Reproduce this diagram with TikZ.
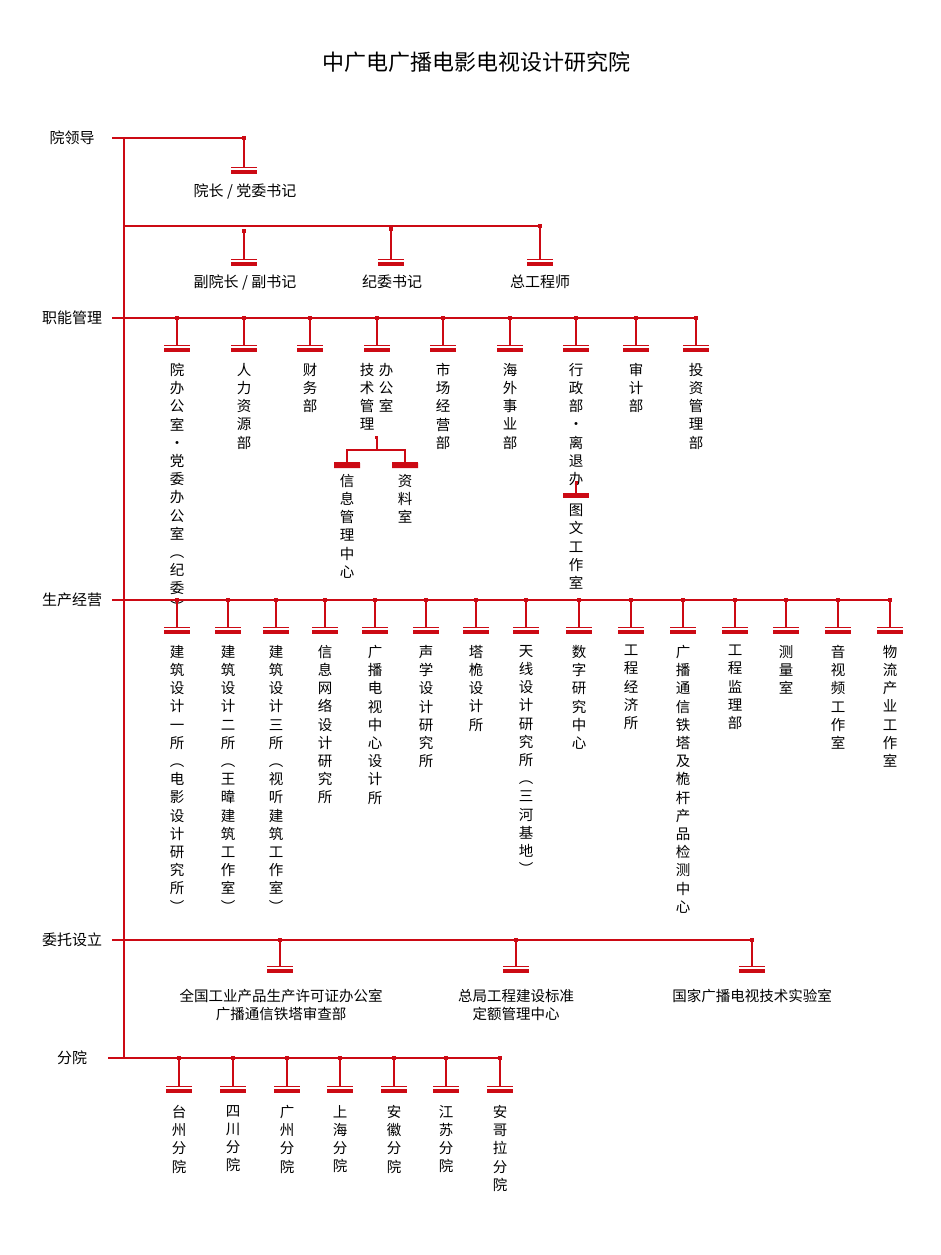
\documentclass[tikz,border=0pt]{standalone}
\usepackage{fontspec}
\setmainfont{Noto Sans CJK SC}
\definecolor{rd}{HTML}{CC0A14}
\def\vsend{}
\def\vsA#1{\ifx#1\vsend\else\hbox to 0pt{\hss#1\hss}\expandafter\vsA\fi}
\newcommand\vstack[1]{\vbox{\baselineskip=18.2pt\lineskiplimit=-20pt\vsA#1\vsend}}
\begin{document}
\begin{tikzpicture}[x=1pt,y=-1pt,
  bus/.style={draw=rd,line width=1.8pt},
  thin/.style={draw=rd,line width=1.1pt},
  lvl/.style={font=\fontsize{15}{18}\selectfont,anchor=center,inner sep=0},
  lab/.style={font=\fontsize{15}{18}\selectfont,inner sep=0},
  vt/.style={font=\fontsize{14.5}{18}\selectfont,inner sep=0,anchor=north}]
\useasboundingbox (0,0) rectangle (940,1255);
\newcommand\mk[3]{% x, stemtop, bar-thin y
  \fill[rd] (#1-1.7,#2-1.7) rectangle (#1+1.7,#2+1.7);
  \draw[thin] (#1,#2) -- (#1,#3);
  \draw[rd,line width=1pt] (#1-13,#3) -- (#1+13,#3);
  \fill[rd] (#1-13,#3+2.5) rectangle (#1+13,#3+7);}
\node[font=\fontsize{22}{26}\selectfont] (title) at (476,62) {中广电广播电影电视设计研究院};
% spine
\coordinate (s0) at (124,138); \coordinate (s1) at (124,1058);
\draw[thin] (s0) -- (s1);
% 院领导
\node[lvl] (l1) at (72,138) {院领导};
\coordinate (b1a) at (112,138); \coordinate (b1b) at (244,138);
\draw[bus] (b1a) -- (b1b);
\mk{244}{138}{167}
\node[lab] (n1) at (245,191) {院长 / 党委书记};
\coordinate (b2a) at (124,226); \coordinate (b2b) at (540,226);
\draw[thin] (b2a) -- (b2b);
\mk{244}{231}{259}\mk{391}{229}{259}\mk{540}{226}{259}
\node[lab] (n2) at (245,282) {副院长 / 副书记};
\node[lab] (n3) at (392,282) {纪委书记};
\node[lab] (n4) at (540,282) {总工程师};
% 职能管理
\node[lvl] (l2) at (72,318) {职能管理};
\coordinate (b3a) at (112,318); \coordinate (b3b) at (696,318);
\draw[bus] (b3a) -- (b3b);
\foreach \x in {177,244,310,377,443,510,576,636,696}{\mk{\x}{318}{345}}
\node[vt] (f1) at (177,363) {\vstack{院办公室·党委办公室︵纪委︶}};
\node[vt] (f2) at (244,363) {\vstack{人力资源部}};
\node[vt] (f3) at (310,363) {\vstack{财务部}};
\node[vt] (f4a) at (386,363) {\vstack{办公室}};
\node[vt] (f4b) at (367,363) {\vstack{技术管理}};
\node[vt] (f5) at (443,363) {\vstack{市场经营部}};
\node[vt] (f6) at (510,363) {\vstack{海外事业部}};
\node[vt] (f7) at (576,363) {\vstack{行政部·离退办}};
\node[vt] (f8) at (636,363) {\vstack{审计部}};
\node[vt] (f9) at (696,363) {\vstack{投资管理部}};
% sub branches
\fill[rd] (374.5,435.5) rectangle (377.5,438.5);
\draw[thin] (377,437) -- (377,450) (347,462) |- (405,450) -- (405,462);
\draw[rd,line width=1pt] (334,462) -- (360,462) (392,462) -- (418,462);
\fill[rd] (334,463) rectangle (360,468) (392,463) rectangle (418,468);
\node[vt] (g1) at (347,474) {\vstack{信息管理中心}};
\node[vt] (g2) at (405,474) {\vstack{资料室}};
\fill[rd] (574.5,480.5) rectangle (577.5,483.5);
\draw[thin] (576,482) -- (576,493);
\fill[rd] (563,493) rectangle (589,498);
\node[vt] (g3) at (576,504) {\vstack{图文工作室}};
% 生产经营
\node[lvl] (l3) at (72,600) {生产经营};
\coordinate (b4a) at (112,600); \coordinate (b4b) at (890,600);
\draw[bus] (b4a) -- (b4b);
\foreach \x in {177,228,276,325,375,426,476,526,579,631,683,735,786,838,890}{\mk{\x}{600}{627}}
\node[vt] (p1) at (177,645) {\vstack{建筑设计一所︵电影设计研究所︶}};
\node[vt] (p2) at (228,645) {\vstack{建筑设计二所︵王暐建筑工作室︶}};
\node[vt] (p3) at (276,645) {\vstack{建筑设计三所︵视听建筑工作室︶}};
\node[vt] (p4) at (325,645) {\vstack{信息网络设计研究所}};
\node[vt] (p5) at (375,645) {\vstack{广播电视中心设计所}};
\node[vt] (p6) at (426,645) {\vstack{声学设计研究所}};
\node[vt] (p7) at (476,645) {\vstack{塔桅设计所}};
\node[vt] (p8) at (526,645) {\vstack{天线设计研究所︵三河基地︶}};
\node[vt] (p9) at (579,645) {\vstack{数字研究中心}};
\node[vt] (p10) at (631,645) {\vstack{工程经济所}};
\node[vt] (p11) at (683,645) {\vstack{广播通信铁塔及桅杆产品检测中心}};
\node[vt] (p12) at (735,645) {\vstack{工程监理部}};
\node[vt] (p13) at (786,645) {\vstack{测量室}};
\node[vt] (p14) at (838,645) {\vstack{音视频工作室}};
\node[vt] (p15) at (890,645) {\vstack{物流产业工作室}};
% 委托设立
\node[lvl] (l4) at (72,940) {委托设立};
\coordinate (b5a) at (112,940); \coordinate (b5b) at (752,940);
\draw[bus] (b5a) -- (b5b);
\foreach \x in {280,516,752}{\mk{\x}{940}{966}}
\node[lab,align=center,font=\fontsize{14.5}{18}\selectfont] (w1) at (281,1005) {全国工业产品生产许可证办公室\\广播通信铁塔审查部};
\node[lab,align=center,font=\fontsize{14.5}{18}\selectfont] (w2) at (516,1005) {总局工程建设标准\\定额管理中心};
\node[lab,font=\fontsize{14.5}{18}\selectfont] (w3) at (752,996) {国家广播电视技术实验室};
% 分院
\node[lvl] (l5) at (72,1058) {分院};
\coordinate (b6a) at (108,1058); \coordinate (b6b) at (500,1058);
\draw[bus] (b6a) -- (b6b);
\foreach \x in {179,233,287,340,394,446,500}{\mk{\x}{1058}{1086}}
\node[vt] (q1) at (179,1105) {\vstack{台州分院}};
\node[vt] (q2) at (233,1105) {\vstack{四川分院}};
\node[vt] (q3) at (287,1105) {\vstack{广州分院}};
\node[vt] (q4) at (340,1105) {\vstack{上海分院}};
\node[vt] (q5) at (394,1105) {\vstack{安徽分院}};
\node[vt] (q6) at (446,1105) {\vstack{江苏分院}};
\node[vt] (q7) at (500,1105) {\vstack{安哥拉分院}};
\end{tikzpicture}
\end{document}
